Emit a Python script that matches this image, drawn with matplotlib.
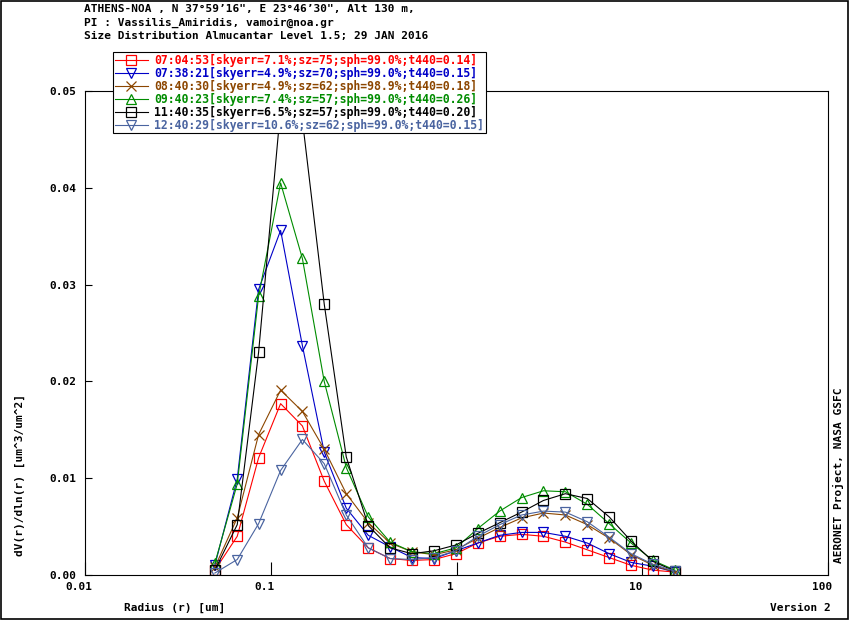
import numpy as np
import matplotlib
matplotlib.use('Agg')
import matplotlib.pyplot as plt
import matplotlib.transforms as mtransforms
from matplotlib.patches import Rectangle

plt.rcParams['font.family'] = 'DejaVu Sans Mono'
plt.rcParams['font.weight'] = 'bold'
plt.rcParams['font.size'] = 8

# AERONET radius bins [um]
radius = [0.050, 0.066, 0.086, 0.113, 0.148, 0.194, 0.255, 0.335, 0.439, 0.576, 0.756,
          0.992, 1.302, 1.708, 2.241, 2.940, 3.857, 5.061, 6.641, 8.713, 11.432, 15.000]

labels = [
    '07:04:53[skyerr=7.1%;sz=75;sph=99.0%;t440=0.14]',
    '07:38:21[skyerr=4.9%;sz=70;sph=99.0%;t440=0.15]',
    '08:40:30[skyerr=4.9%;sz=62;sph=98.9%;t440=0.18]',
    '09:40:23[skyerr=7.4%;sz=57;sph=99.0%;t440=0.26]',
    '11:40:35[skyerr=6.5%;sz=57;sph=99.0%;t440=0.20]',
    '12:40:29[skyerr=10.6%;sz=62;sph=99.0%;t440=0.15]',
]

dv_0704 = [0.0005, 0.0040, 0.0121, 0.0177, 0.0154, 0.0097, 0.0052, 0.0028, 0.0017, 0.0015, 0.0016,
           0.0022, 0.0033, 0.0040, 0.0042, 0.0040, 0.0034, 0.0026, 0.0018, 0.0010, 0.0005, 0.0003]
dv_0738 = [0.0010, 0.0099, 0.0295, 0.0356, 0.0237, 0.0127, 0.0069, 0.0041, 0.0029, 0.0018, 0.0017,
           0.0025, 0.0033, 0.0041, 0.0044, 0.0044, 0.0040, 0.0033, 0.0022, 0.0013, 0.0009, 0.0003]
dv_0840 = [0.0008, 0.0059, 0.0145, 0.0191, 0.0169, 0.0130, 0.0084, 0.0054, 0.0033, 0.0024, 0.0021,
           0.0026, 0.0038, 0.0049, 0.0059, 0.0064, 0.0062, 0.0052, 0.0038, 0.0021, 0.0010, 0.0003]
dv_0940 = [0.0012, 0.0094, 0.0288, 0.0405, 0.0327, 0.0200, 0.0111, 0.0060, 0.0034, 0.0024, 0.0022,
           0.0028, 0.0048, 0.0066, 0.0080, 0.0087, 0.0086, 0.0073, 0.0053, 0.0033, 0.0015, 0.0005]
dv_1140 = [0.0005, 0.0052, 0.0230, 0.0482, 0.0470, 0.0280, 0.0122, 0.0051, 0.0028, 0.0022, 0.0025,
           0.0031, 0.0043, 0.0054, 0.0065, 0.0077, 0.0084, 0.0079, 0.0060, 0.0035, 0.0014, 0.0004]
dv_1240 = [0.0002, 0.0016, 0.0053, 0.0108, 0.0140, 0.0115, 0.0062, 0.0028, 0.0017, 0.0016, 0.0018,
           0.0025, 0.0040, 0.0052, 0.0062, 0.0066, 0.0065, 0.0055, 0.0039, 0.0022, 0.0011, 0.0004]

series = [dv_0704, dv_0738, dv_0840, dv_0940, dv_1140, dv_1240]
colors = ['#ff0000', '#0000c8', '#8c4600', '#008c00', '#000000', '#4a64a0']
markers = ['s', 'v', 'x', '^', 's', 'v']

fig = plt.figure(figsize=(8.5, 6.2), dpi=100)
ax = fig.add_axes([85 / 850, 45 / 620, 743 / 850, 484 / 620])

for y, c, m, lab in zip(series, colors, markers, labels):
    ax.plot(radius, y, color=c, marker=m, markersize=7, markerfacecolor='none',
            markeredgecolor=c, markeredgewidth=0.9, linewidth=0.8, label=lab)

ax.set_xscale('log')
ax.set_xlim(0.01, 100)
ax.set_ylim(0, 0.05)
ax.set_xticks([0.01, 0.1, 1, 10, 100])
ax.set_xticklabels(['0.01', '0.1', '1', '10', '100'])
ax.xaxis.set_minor_locator(matplotlib.ticker.NullLocator())
ax.set_yticks([0.0, 0.01, 0.02, 0.03, 0.04, 0.05])
ax.set_yticklabels(['0.00', '0.01', '0.02', '0.03', '0.04', '0.05'])
ax.tick_params(axis='x', direction='in', length=9.5, width=0.8, pad=5)
ax.tick_params(axis='y', direction='in', length=5, width=0.8, pad=6.5)
for sp in ax.spines.values():
    sp.set_linewidth(0.8)

shift = mtransforms.ScaledTranslation(-6 / 100, 0, fig.dpi_scale_trans)
for t in ax.get_xticklabels():
    t.set_transform(t.get_transform() + shift)

# header
head = ['ATHENS-NOA , N 37°59’16", E 23°46’30", Alt 130 m,',
        'PI : Vassilis_Amiridis, vamoir@noa.gr',
        'Size Distribution Almucantar Level 1.5; 29 JAN 2016']
for i, h in enumerate(head):
    fig.text(84 / 850, 1 - (9 + 13.5 * i) / 620, h, ha='left', va='center')

fig.text(20 / 850, 1 - 475 / 620, 'dV(r)/dln(r) [um^3/um^2]', rotation=90,
         ha='center', va='center')
fig.text(124 / 850, 1 - 608 / 620, 'Radius (r) [um]', ha='left', va='center')
fig.text(831 / 850, 1 - 608 / 620, 'Version 2', ha='right', va='center')
fig.text(838 / 850, 1 - 475 / 620, 'AERONET Project, NASA GSFC', rotation=90,
         ha='center', va='center')

leg = fig.legend(loc='upper left', bbox_to_anchor=(113 / 850, 1 - 52 / 620),
                 frameon=True, fancybox=False, framealpha=1, edgecolor='black',
                 handlelength=2.9, handletextpad=0.5, borderpad=0.15,
                 labelspacing=0.0, borderaxespad=0, labelcolor='linecolor',
                 prop={'size': 8.3, 'weight': 'bold'})
leg.get_frame().set_linewidth(0.8)

fig.patches.append(Rectangle((0.001, 0.002), 0.997, 0.996, transform=fig.transFigure,
                             fill=False, edgecolor='black', linewidth=1.2))

fig.savefig('out.png', dpi=100)
